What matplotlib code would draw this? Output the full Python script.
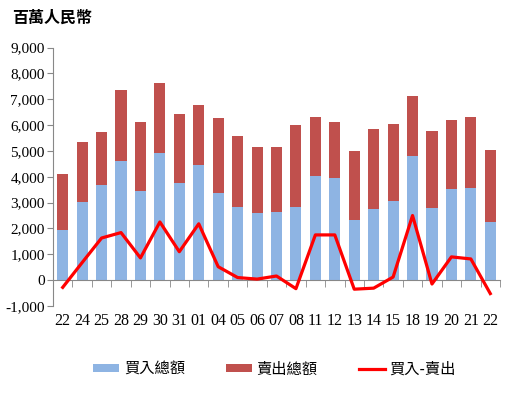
import matplotlib.pyplot as plt
import numpy as np

plt.rcParams['font.family'] = ['Liberation Serif', 'Noto Sans CJK TC']

#dates (day of month) and daily amounts in million RMB
days = ['22', '24', '25', '28', '29', '30', '31', '01', '04', '05', '06', '07',
        '08', '11', '12', '13', '14', '15', '18', '19', '20', '21', '22']
buy = [1950, 3030, 3690, 4610, 3460, 4920, 3760, 4460, 3380, 2840, 2600, 2640,
       2840, 4030, 3960, 2330, 2760, 3070, 4810, 2800, 3530, 3570, 2250]
total = [4110, 5350, 5730, 7350, 6120, 7620, 6420, 6770, 6270, 5580, 5150, 5150,
         6000, 6310, 6120, 5000, 5850, 6040, 7120, 5770, 6200, 6310, 5040]
net = [-280, 680, 1630, 1840, 860, 2250, 1100, 2180, 520, 100, 40, 160,
       -330, 1750, 1750, -350, -310, 120, 2500, -150, 900, 820, -520]

sell = np.array(total) - np.array(buy)
x = np.arange(len(days))

fig = plt.figure(figsize=(5.16, 3.96), dpi=100)
ax = fig.add_axes([0.1027, 0.2273, 0.8663, 0.6527])

b1 = ax.bar(x, buy, width=0.57, color='#8EB4E3', label='買入總額', zorder=2)
b2 = ax.bar(x, sell, width=0.57, bottom=buy, color='#C0504D', label='賣出總額', zorder=2)
l1, = ax.plot(x, net, color='#FF0000', lw=2.3, label='買入-賣出', zorder=3)

ax.set_xlim(-0.5, len(days) - 0.5)
ax.set_ylim(-1000, 9000)
ax.set_yticks(np.arange(-1000, 9001, 1000))
ax.set_yticklabels(['{:,}'.format(v) for v in range(-1000, 9001, 1000)], fontsize=11)

ax.spines['top'].set_visible(False)
ax.spines['right'].set_visible(False)
ax.spines['left'].set_color('#888888')
ax.spines['bottom'].set_color('#888888')
ax.spines['bottom'].set_position(('data', 0))
ax.tick_params(axis='y', direction='out', length=4, color='#888888', pad=2)

ax.set_xticks(x)
ax.set_xticklabels(days, fontsize=11.5)
ax.set_xticks(np.arange(-0.5, len(days), 1), minor=True)
ax.tick_params(axis='x', which='major', length=0, pad=24)
ax.tick_params(axis='x', which='minor', direction='out', length=5, color='#888888')

fig.text(0.023, 0.955, '百萬人民幣', fontsize=11.5, fontweight='bold',
         family=['Noto Sans CJK TC'], va='center', ha='left')

fig.legend(handles=[b1, b2, l1], loc='center', bbox_to_anchor=(0.532, 1 - 369 / 396),
           ncol=3, frameon=False, prop={'family': 'Noto Sans CJK TC', 'size': 11},
           handlelength=1.7, handleheight=0.5, columnspacing=2.7, handletextpad=0.3)

plt.savefig('out.png', dpi=100)
